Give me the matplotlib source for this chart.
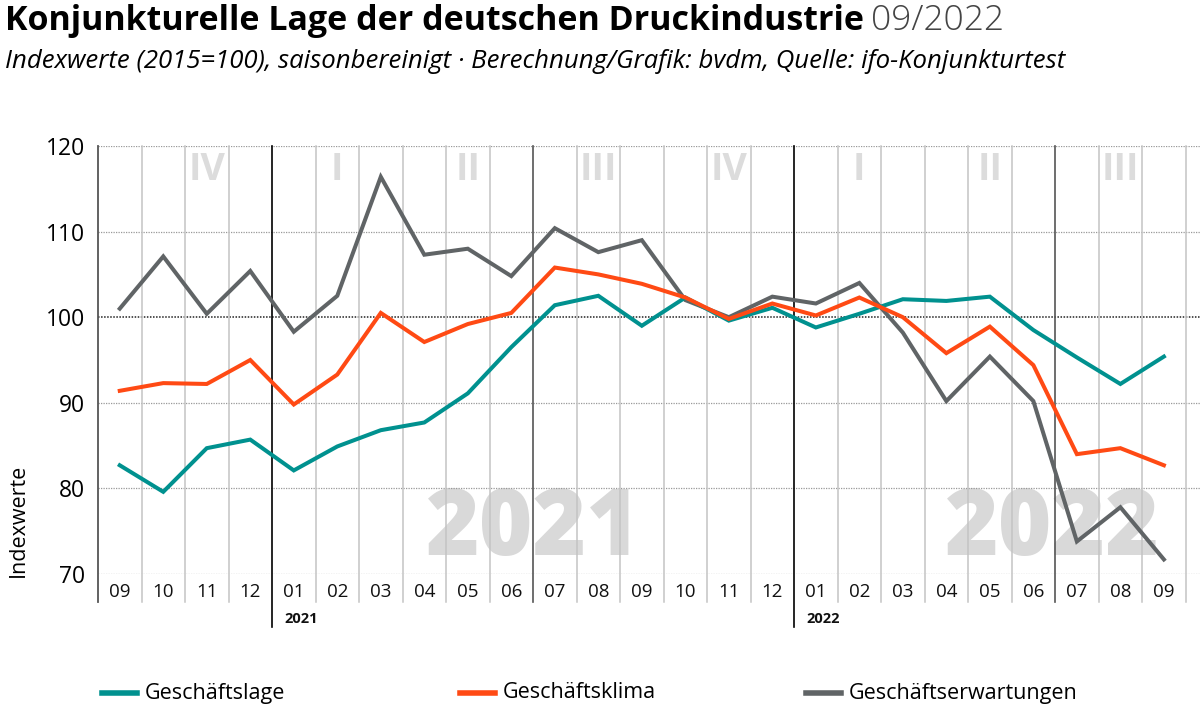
import matplotlib.pyplot as plt
from matplotlib.lines import Line2D
import numpy as np

plt.rcParams['font.family'] = ['Open Sans', 'DejaVu Sans']

# Daten (Indexwerte 2015=100), 09/2020 bis 09/2022
monate = ["09", "10", "11", "12", "01", "02", "03", "04", "05", "06", "07", "08",
          "09", "10", "11", "12", "01", "02", "03", "04", "05", "06", "07", "08", "09"]
geschaeftslage = [82.7, 79.6, 84.7, 85.7, 82.1, 84.9, 86.8, 87.7, 91.1, 96.5, 101.4, 102.5,
                  99.0, 102.3, 99.6, 101.1, 98.8, 100.4, 102.1, 101.9, 102.4, 98.5, 95.3, 92.2, 95.4]
geschaeftsklima = [91.4, 92.3, 92.2, 95.0, 89.8, 93.3, 100.5, 97.1, 99.2, 100.5, 105.8, 105.0,
                   103.9, 102.3, 99.8, 101.6, 100.2, 102.3, 100.0, 95.8, 98.9, 94.4, 84.0, 84.7, 82.7]
geschaeftserwartungen = [101.0, 107.1, 100.4, 105.4, 98.3, 102.5, 116.4, 107.3, 108.0, 104.8, 110.4, 107.6,
                         109.0, 102.0, 100.0, 102.4, 101.6, 104.0, 98.2, 90.2, 95.4, 90.2, 73.8, 77.8, 71.7]
quartale = ["IV", "I", "II", "III", "IV", "I", "II", "III"]
quartal_mitte = [2, 5, 8, 11, 14, 17, 20, 23]
jahre = ["2021", "2022"]
jahr_start = [4, 16]

farben = {"Geschäftslage": "#00918f", "Geschäftsklima": "#ff4a14", "Geschäftserwartungen": "#606466"}

fig = plt.figure(figsize=(12, 7.12), dpi=100)
ax = fig.add_axes([98 / 1200, 1 - 574 / 712, 1 - 98 / 1200, 428 / 712])

x = np.arange(len(monate))
ax.set_xlim(-0.5, 24.83)
ax.set_ylim(70, 120)

# Wasserzeichen
for q, m in zip(quartale, quartal_mitte):
    ax.text(m, 117.2, q, ha='center', va='center', fontsize=27, fontweight='bold', color='#dcdcdc', zorder=0)
ax.text(9.5, 69.6, "2021", ha='center', va='bottom', fontsize=66, fontweight='heavy', color='#d9d9d9', zorder=0)
ax.text(21.45, 69.6, "2022", ha='center', va='bottom', fontsize=66, fontweight='heavy', color='#d9d9d9', zorder=0)

# horizontale Gitterlinien
for yv in [70, 80, 90, 110, 120]:
    ax.axhline(yv, color='#999999', lw=0.9, ls=(0, (1, 1)), zorder=1)
ax.axhline(100, color='#222222', lw=1.1, ls=(0, (1, 1)), zorder=1)

# vertikale Linien: Jahr schwarz, Halbjahr dunkelgrau, Monat hellgrau
for i in range(1, 26):
    b = i - 0.5
    if i in jahr_start:
        ax.axvline(b, ymin=-0.124, ymax=1, color='black', lw=1.2, clip_on=False, zorder=1)
    elif i in (10, 22):
        ax.axvline(b, ymin=-0.066, ymax=1, color='#555555', lw=1.2, clip_on=False, zorder=1)
    else:
        ax.axvline(b, ymin=-0.066, ymax=1, color='#c4c4c4', lw=1.1, clip_on=False, zorder=1)
ax.axvline(-0.5, ymin=-0.066, ymax=1, color='#555555', lw=1.3, clip_on=False, zorder=1)

ax.plot(x, geschaeftserwartungen, color=farben["Geschäftserwartungen"], lw=2.9, zorder=3, solid_joinstyle='miter')
ax.plot(x, geschaeftslage, color=farben["Geschäftslage"], lw=2.9, zorder=4, solid_joinstyle='miter')
ax.plot(x, geschaeftsklima, color=farben["Geschäftsklima"], lw=2.9, zorder=5, solid_joinstyle='miter')

for s in ax.spines.values():
    s.set_visible(False)
ax.set_xticks([])
ax.set_yticks([70, 80, 90, 100, 110, 120])
ax.set_yticklabels(["70", "80", "90", "100", "110", "120"], fontsize=16.5)
ax.tick_params(axis='y', length=0, pad=9)

# Monatsbeschriftungen
for i, m in enumerate(monate):
    ax.text(i, 67.9, m, ha='center', va='center', fontsize=13.5, color='#111111')
for j, s in zip(jahre, jahr_start):
    ax.text(s - 0.5 + 0.28, 64.8, j, ha='left', va='center', fontsize=10.5, fontweight='bold', color='#111111')

fig.text(18 / 1200, 1 - 520 / 712, "Indexwerte", rotation=90, ha='center', va='center', fontsize=15.5)

# Titel
t = fig.text(5 / 1200, 1 - 21 / 712, "Konjunkturelle Lage der deutschen Druckindustrie", ha='left', va='center',
             fontsize=24.5, fontweight='bold')
fig.canvas.draw()
bb = t.get_window_extent()
fig.text(bb.x1 / 1200 + 0.006, 1 - 21 / 712, "09/2022", ha='left', va='center', fontsize=25.5,
         fontweight='light', color='#444444')
fig.text(5 / 1200, 1 - 62 / 712,
         "Indexwerte (2015=100), saisonbereinigt \u00b7 Berechnung/Grafik: bvdm, Quelle: ifo-Konjunkturtest",
         ha='left', va='center', fontsize=18.5, style='italic')

# Legende
for name, hx in zip(["Geschäftslage", "Geschäftsklima", "Geschäftserwartungen"], [102, 460, 806]):
    fig.add_artist(Line2D([hx / 1200, (hx + 35) / 1200], [1 - 693 / 712] * 2, color=farben[name], lw=4))
    fig.text((hx + 43) / 1200, 1 - 693 / 712, name, ha='left', va='center', fontsize=15.5)

fig.savefig("out.png", dpi=100)
